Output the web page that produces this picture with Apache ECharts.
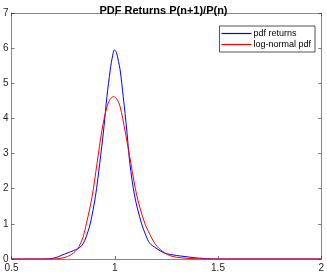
<!DOCTYPE html>
<html><head><meta charset="utf-8">
<script src="https://cdn.jsdelivr.net/npm/echarts@6/dist/echarts.min.js"></script>
<style>html,body{margin:0;padding:0;background:#fff}#c{width:327px;height:274px}</style>
</head><body><div id="c"></div>
<script>
const titleText = 'PDF Returns P(n+1)/P(n)';
const seriesNames = ['pdf returns', 'log-normal pdf'];
const xTicks = [0.5, 1, 1.5, 2];
const yTicks = [0, 1, 2, 3, 4, 5, 6, 7];

const blueX = [0.5, 0.65, 0.69, 0.72, 0.74, 0.77, 0.80, 0.82, 0.84, 0.855, 0.87, 0.882, 0.906, 0.927, 0.946, 0.962, 0.978, 0.99, 0.998, 1.008, 1.018, 1.026, 1.041, 1.058, 1.073, 1.097, 1.129, 1.15, 1.169, 1.2, 1.24, 1.3, 1.34, 1.38, 1.44, 1.5, 2];
const blueY = [0, 0, 0.01, 0.05, 0.1, 0.17, 0.24, 0.29, 0.38, 0.53, 0.78, 1.02, 1.77, 2.72, 3.67, 4.62, 5.38, 5.8, 5.95, 5.88, 5.62, 5.38, 4.62, 3.67, 2.72, 1.77, 1.02, 0.68, 0.45, 0.31, 0.17, 0.1, 0.07, 0.04, 0.01, 0, 0];

const redX = [0.5, 0.7, 0.74, 0.77, 0.80, 0.826, 0.845, 0.863, 0.89, 0.914, 0.938, 0.962, 0.978, 0.994, 1.01, 1.026, 1.049, 1.078, 1.108, 1.145, 1.17, 1.193, 1.22, 1.265, 1.3, 1.35, 1.45, 2];
const redY = [0, 0, 0.02, 0.07, 0.17, 0.35, 0.6, 1.02, 1.77, 2.72, 3.67, 4.33, 4.55, 4.62, 4.55, 4.33, 3.67, 2.72, 1.77, 1.02, 0.7, 0.45, 0.27, 0.1, 0.05, 0.02, 0, 0];

const blueData = blueX.map((x, i) => [x, blueY[i]]);
const redData = redX.map((x, i) => [x, redY[i]]);

const axisColor = '#262626';
const chart = echarts.init(document.getElementById('c'));
const baseX = {
  type: 'value', min: xTicks[0], max: xTicks[xTicks.length - 1], interval: 0.5,
  splitLine: { show: false },
  axisLine: { show: true, onZero: false, lineStyle: { color: '#888', width: 1 } },
  axisTick: { show: true, inside: true, length: 3, lineStyle: { color: axisColor, width: 0.6 } }
};
const baseY = {
  type: 'value', min: yTicks[0], max: yTicks[yTicks.length - 1], interval: 1,
  splitLine: { show: false },
  axisLine: { show: true, onZero: false, lineStyle: { color: '#888', width: 1 } },
  axisTick: { show: true, inside: true, length: 3, lineStyle: { color: axisColor, width: 0.6 } }
};
const labelStyle = { color: axisColor, fontSize: 10, fontFamily: 'Liberation Sans, Arial, sans-serif' };
const lineSeries = (name, data, color) => ({
  name, type: 'line', data, smooth: 0.3, showSymbol: false,
  lineStyle: { color, width: 1 }, itemStyle: { color }
});
chart.setOption({
  animation: false,
  title: { text: titleText, left: 'center', top: 0, textStyle: { fontSize: 11, fontWeight: 'bold', color: '#000', fontFamily: 'Liberation Sans, Arial, sans-serif' } },
  grid: { left: 10, right: 3, top: 13, bottom: 15, containLabel: false },
  legend: {
    orient: 'vertical', right: 12, top: 26, itemWidth: 30, itemHeight: 1.2, itemGap: 0,
    padding: [2, 4, 2, 2], borderColor: axisColor, borderWidth: 0.8, backgroundColor: '#fff',
    icon: 'rect',
    textStyle: { fontSize: 9, lineHeight: 11, color: '#000', fontFamily: 'Liberation Sans, Arial, sans-serif', padding: [0, 0, 0, -3] },
    data: seriesNames
  },
  xAxis: [
    Object.assign({}, baseX, { position: 'bottom', axisLabel: Object.assign({ margin: 4, formatter: v => String(v) }, labelStyle) }),
    Object.assign({}, baseX, { position: 'top', axisLabel: { show: false } })
  ],
  yAxis: [
    Object.assign({}, baseY, { position: 'left', axisLabel: Object.assign({ margin: 3 }, labelStyle) }),
    Object.assign({}, baseY, { position: 'right', axisLabel: { show: false } })
  ],
  series: [
    lineSeries(seriesNames[0], blueData, '#0000ff'),
    lineSeries(seriesNames[1], redData, '#ff0000')
  ]
});
</script></body></html>
